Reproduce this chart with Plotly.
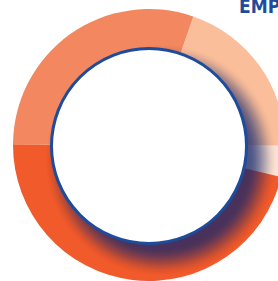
import plotly.graph_objects as go

# ---- data ----
segment_labels = ["Segment A", "Segment B", "Segment C", "Segment D"]
segment_values = [19.8, 3.7, 46.3, 30.2]
segment_colors = ["#FABE9B", "#FDE2D2", "#F15A2B", "#F3875F"]
title_text = "EMP"

# ---- geometry (pixels) ----
W, H = 290, 281
ML, MR, MT, MB = 13, 5, 9, 0
PW = W - ML - MR
PH = H - MT - MB
CX, CY = ML + PW / 2, MT + PH / 2
R_IN = 99
BLUE = "#1E4C9C"


def px(x):
    return (x - ML) / PW


def py(y):
    return (H - MB - y) / PH


fig = go.Figure(
    go.Pie(
        labels=segment_labels,
        values=segment_values,
        marker=dict(colors=segment_colors, line=dict(width=0)),
        hole=0.70,
        sort=False,
        direction="clockwise",
        rotation=19,
        textinfo="none",
        hoverinfo="skip",
        showlegend=False,
    )
)

# ---- soft drop shadow of the inner disc (offset to lower right) ----
SDX, SDY = 12, 15
D0, D1, A0 = 88, 117, 0.75


def target_alpha(d):
    if d <= D0:
        return A0
    if d >= D1:
        return 0.0
    t = (d - D0) / (D1 - D0)
    s = t * t * (3 - 2 * t)
    return A0 * (1 - s)


radii = list(range(D0, D1 + 1))
shapes = []
for r in radii:
    a_here = target_alpha(r)
    a_next = target_alpha(r + 1)
    op = 1 - (1 - a_here) / (1 - a_next)
    if op <= 0.001:
        continue
    shapes.append(
        dict(
            type="circle",
            xref="paper",
            yref="paper",
            x0=px(CX + SDX - r),
            x1=px(CX + SDX + r),
            y0=py(CY + SDY + r),
            y1=py(CY + SDY - r),
            fillcolor="#1B2F7A",
            line=dict(width=0),
            opacity=op,
            layer="above",
        )
    )
# inner white disc with blue rim
rr = R_IN - 1.5
shapes.append(
    dict(
        type="circle",
        xref="paper",
        yref="paper",
        x0=px(CX - rr),
        x1=px(CX + rr),
        y0=py(CY + 1 + rr),
        y1=py(CY + 1 - rr),
        fillcolor="white",
        line=dict(width=3, color=BLUE),
        layer="above",
    )
)

fig.update_layout(
    width=W,
    height=H,
    margin=dict(l=ML, r=MR, t=MT, b=MB),
    paper_bgcolor="white",
    plot_bgcolor="white",
    shapes=shapes,
    annotations=[
        dict(
            text="<b>" + title_text + "</b>",
            xref="paper",
            yref="paper",
            x=px(237),
            y=py(6),
            xanchor="left",
            yanchor="middle",
            showarrow=False,
            font=dict(family="Liberation Sans Narrow, DejaVu Sans Condensed", size=19, color=BLUE),
        )
    ],
)

fig.write_html(
    "out.html",
    config={"displayModeBar": False},
    post_script="document.body.style.margin='0';document.body.style.overflow='hidden';",
)
